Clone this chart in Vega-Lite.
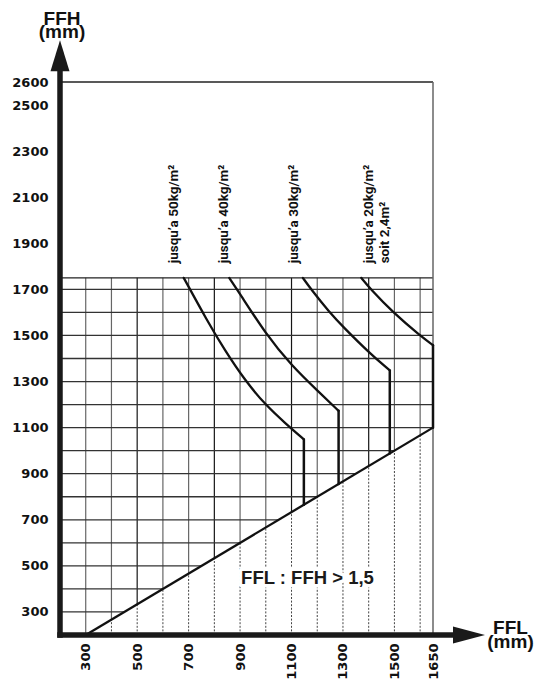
{
 "$schema": "https://vega.github.io/schema/vega-lite/v6.json",
 "width": 373,
 "height": 553,
 "autosize": {"type": "none"},
 "padding": {"left": 60, "top": 82, "right": 106, "bottom": 46},
 "background": "#ffffff",
 "config": {
  "view": {"stroke": null},
  "axis": {"domain": false, "ticks": false, "tickSize": 0, "grid": false, "format": "d", "labelColor": "#111", "titleColor": "#111", "labelFont": "DejaVu Sans", "labelFontWeight": "bold", "labelFontSize": 13, "labelOverlap": false, "labelFlush": false, "labelBound": false, "titleFont": "Liberation Sans", "titleFontWeight": "bold", "titleFontSize": 19, "titleLineHeight": 13.5, "titleAngle": 0, "titleAlign": "center", "titleBaseline": "alphabetic"}
 },
 "datasets": {
  "gridH": [
   {"FFH": 300, "FFL": 200, "FFL2": 450},
   {"FFH": 400, "FFL": 200, "FFL2": 600},
   {"FFH": 500, "FFL": 200, "FFL2": 750},
   {"FFH": 600, "FFL": 200, "FFL2": 900},
   {"FFH": 700, "FFL": 200, "FFL2": 1050},
   {"FFH": 800, "FFL": 200, "FFL2": 1200},
   {"FFH": 900, "FFL": 200, "FFL2": 1350},
   {"FFH": 1000, "FFL": 200, "FFL2": 1500},
   {"FFH": 1100, "FFL": 200, "FFL2": 1650},
   {"FFH": 1200, "FFL": 200, "FFL2": 1650},
   {"FFH": 1300, "FFL": 200, "FFL2": 1650},
   {"FFH": 1400, "FFL": 200, "FFL2": 1650},
   {"FFH": 1500, "FFL": 200, "FFL2": 1650},
   {"FFH": 1600, "FFL": 200, "FFL2": 1650},
   {"FFH": 1700, "FFL": 200, "FFL2": 1650}
  ],
  "gridV": [
   {"FFL": 300, "FFH": 200, "FFH2": 1750},
   {"FFL": 400, "FFH": 266.7, "FFH2": 1750},
   {"FFL": 500, "FFH": 333.3, "FFH2": 1750},
   {"FFL": 600, "FFH": 400, "FFH2": 1750},
   {"FFL": 700, "FFH": 466.7, "FFH2": 1750},
   {"FFL": 800, "FFH": 533.3, "FFH2": 1750},
   {"FFL": 900, "FFH": 600, "FFH2": 1750},
   {"FFL": 1000, "FFH": 666.7, "FFH2": 1750},
   {"FFL": 1100, "FFH": 733.3, "FFH2": 1750},
   {"FFL": 1200, "FFH": 800, "FFH2": 1750},
   {"FFL": 1300, "FFH": 866.7, "FFH2": 1750},
   {"FFL": 1400, "FFH": 933.3, "FFH2": 1750},
   {"FFL": 1500, "FFH": 1000, "FFH2": 1750},
   {"FFL": 1600, "FFH": 1066.7, "FFH2": 1750}
  ],
  "gridDash": [
   {"FFL": 400, "FFH": 200, "FFH2": 266.7},
   {"FFL": 500, "FFH": 200, "FFH2": 333.3},
   {"FFL": 600, "FFH": 200, "FFH2": 400},
   {"FFL": 700, "FFH": 200, "FFH2": 466.7},
   {"FFL": 800, "FFH": 200, "FFH2": 533.3},
   {"FFL": 900, "FFH": 200, "FFH2": 600},
   {"FFL": 1000, "FFH": 200, "FFH2": 666.7},
   {"FFL": 1100, "FFH": 200, "FFH2": 733.3},
   {"FFL": 1200, "FFH": 200, "FFH2": 800},
   {"FFL": 1300, "FFH": 200, "FFH2": 866.7},
   {"FFL": 1400, "FFH": 200, "FFH2": 933.3},
   {"FFL": 1500, "FFH": 200, "FFH2": 1000},
   {"FFL": 1600, "FFH": 200, "FFH2": 1066.7}
  ],
  "curves": [
   {"curve": "50", "ord": 1, "FFL": 681, "FFH": 1750},
   {"curve": "50", "ord": 2, "FFL": 771, "FFH": 1566},
   {"curve": "50", "ord": 3, "FFL": 841, "FFH": 1435},
   {"curve": "50", "ord": 4, "FFL": 919, "FFH": 1305},
   {"curve": "50", "ord": 5, "FFL": 1000, "FFH": 1197},
   {"curve": "50", "ord": 6, "FFL": 1075, "FFH": 1120},
   {"curve": "50", "ord": 7, "FFL": 1148, "FFH": 1049},
   {"curve": "40", "ord": 1, "FFL": 858, "FFH": 1750},
   {"curve": "40", "ord": 2, "FFL": 896, "FFH": 1687},
   {"curve": "40", "ord": 3, "FFL": 1000, "FFH": 1506},
   {"curve": "40", "ord": 4, "FFL": 1100, "FFH": 1369},
   {"curve": "40", "ord": 5, "FFL": 1201, "FFH": 1260},
   {"curve": "40", "ord": 6, "FFL": 1283, "FFH": 1173},
   {"curve": "30", "ord": 1, "FFL": 1144, "FFH": 1750},
   {"curve": "30", "ord": 2, "FFL": 1176, "FFH": 1700},
   {"curve": "30", "ord": 3, "FFL": 1248, "FFH": 1600},
   {"curve": "30", "ord": 4, "FFL": 1300, "FFH": 1538},
   {"curve": "30", "ord": 5, "FFL": 1400, "FFH": 1427},
   {"curve": "30", "ord": 6, "FFL": 1482, "FFH": 1348},
   {"curve": "20", "ord": 1, "FFL": 1371, "FFH": 1750},
   {"curve": "20", "ord": 2, "FFL": 1408, "FFH": 1700},
   {"curve": "20", "ord": 3, "FFL": 1494, "FFH": 1600},
   {"curve": "20", "ord": 4, "FFL": 1600, "FFH": 1499},
   {"curve": "20", "ord": 5, "FFL": 1650, "FFH": 1458}
  ],
  "drops": [
   {"FFL": 1148, "FFH": 765, "FFH2": 1049},
   {"FFL": 1283, "FFH": 855, "FFH2": 1173},
   {"FFL": 1482, "FFH": 988, "FFH2": 1348},
   {"FFL": 1650, "FFH": 1100, "FFH2": 1458}
  ],
  "labels": [
   {"FFL": 642, "FFH": 1813, "label": "jusqu’a 50kg/m²"},
   {"FFL": 837, "FFH": 1813, "label": "jusqu’a 40kg/m²"},
   {"FFL": 1109, "FFH": 1813, "label": "jusqu’a 30kg/m²"},
   {"FFL": 1401, "FFH": 1813, "label": "jusqu’a 20kg/m²"},
   {"FFL": 1463, "FFH": 1813, "label": "soit 2,4m²"}
  ],
  "ratio": [
   {"FFL": 1162, "FFH": 447, "label": "FFL : FFH > 1,5"}
  ]
 },
 "encoding": {
  "x": {"field": "FFL", "type": "quantitative", "scale": {"domain": [200, 1650], "nice": false, "zero": false},
        "axis": {"values": [300, 500, 700, 900, 1100, 1300, 1500, 1650], "labelAngle": -90, "labelPadding": 8, "title": ["FFL", "(mm)"], "titleX": 450, "titleY": -1.5}},
  "y": {"field": "FFH", "type": "quantitative", "scale": {"domain": [200, 2600], "nice": false, "zero": false},
        "axis": {"values": [300, 500, 700, 900, 1100, 1300, 1500, 1700, 1900, 2100, 2300, 2500, 2600], "labelPadding": 12, "title": ["FFH", "(mm)"], "titleX": 1.5, "titleY": -58}}
 },
 "layer": [
  {"data": {"name": "gridDash"}, "mark": {"type": "rule", "strokeDash": [2, 1.6], "strokeWidth": 1, "color": "#444"}, "encoding": {"y2": {"field": "FFH2"}}},
  {"data": {"name": "gridV"}, "transform": [{"filter": {"not": {"field": "FFL", "oneOf": [500, 800, 1100, 1400]}}}], "mark": {"type": "rule", "strokeWidth": 1.2, "color": "#666"}, "encoding": {"y2": {"field": "FFH2"}}},
  {"data": {"name": "gridV"}, "transform": [{"filter": {"field": "FFL", "oneOf": [500, 800, 1100, 1400]}}], "mark": {"type": "rule", "strokeWidth": 1.2, "color": "#151515"}, "encoding": {"y2": {"field": "FFH2"}}},
  {"data": {"name": "gridH"}, "mark": {"type": "rule", "strokeWidth": 1.3, "color": "#333"}, "encoding": {"x2": {"field": "FFL2"}}},
  {"data": {"values": [{"FFL": 200, "FFL2": 1650, "FFH": 2600}, {"FFL": 200, "FFL2": 1650, "FFH": 1750}]}, "mark": {"type": "rule", "strokeWidth": 1.3, "color": "#222"}, "encoding": {"x2": {"field": "FFL2"}}},
  {"data": {"values": [{"FFL": 1650, "FFH": 200, "FFH2": 2600}]}, "mark": {"type": "rule", "strokeWidth": 1.5, "color": "#666"}, "encoding": {"y2": {"field": "FFH2"}}},
  {"data": {"values": [{"FFL": 300, "FFH": 200}, {"FFL": 1650, "FFH": 1100}]}, "mark": {"type": "line", "strokeWidth": 2.3, "color": "#111"}},
  {"data": {"name": "curves"}, "mark": {"type": "line", "interpolate": "basis", "strokeWidth": 2.3, "color": "#111", "strokeCap": "round"}, "encoding": {"detail": {"field": "curve"}, "order": {"field": "ord", "type": "quantitative"}}},
  {"data": {"name": "drops"}, "mark": {"type": "rule", "strokeWidth": 2.5, "color": "#111", "strokeCap": "round"}, "encoding": {"y2": {"field": "FFH2"}}},
  {"data": {"name": "ratio"}, "mark": {"type": "text", "font": "Liberation Sans", "fontWeight": "bold", "fontSize": 18.5, "align": "center", "baseline": "middle", "color": "#fff", "stroke": "#fff", "strokeWidth": 7, "strokeJoin": "round"}, "encoding": {"text": {"field": "label"}}},
  {"data": {"name": "ratio"}, "mark": {"type": "text", "font": "Liberation Sans", "fontWeight": "bold", "fontSize": 18.5, "align": "center", "baseline": "middle", "color": "#1a1a1a"}, "encoding": {"text": {"field": "label"}}},
  {"data": {"name": "labels"}, "mark": {"type": "text", "font": "Roboto", "fontWeight": "bold", "fontSize": 13.5, "angle": 270, "align": "left", "baseline": "middle", "color": "#111"}, "encoding": {"text": {"field": "label"}}},
  {"data": {"values": [{"FFL": 200, "FFH": 200, "FFH2": 2647}]}, "mark": {"type": "rule", "strokeWidth": 5.5, "color": "#1a1a1a", "strokeCap": "square"}, "encoding": {"y2": {"field": "FFH2"}}},
  {"data": {"values": [{"FFL": 200, "FFL2": 1728, "FFH": 200}]}, "mark": {"type": "rule", "strokeWidth": 5.5, "color": "#1a1a1a", "strokeCap": "square"}, "encoding": {"x2": {"field": "FFL2"}}},
  {"data": {"values": [{"FFL": 200, "FFH": 2714}]}, "mark": {"type": "point", "filled": true, "opacity": 1, "strokeWidth": 0, "color": "#1a1a1a", "size": 961, "shape": "M0,-1L0.613,1L-0.613,1Z"}},
  {"data": {"values": [{"FFL": 1790, "FFH": 200}]}, "mark": {"type": "point", "filled": true, "opacity": 1, "strokeWidth": 0, "color": "#1a1a1a", "size": 1024, "shape": "M1,0L-1,-0.53L-1,0.53Z"}}
 ]
}
